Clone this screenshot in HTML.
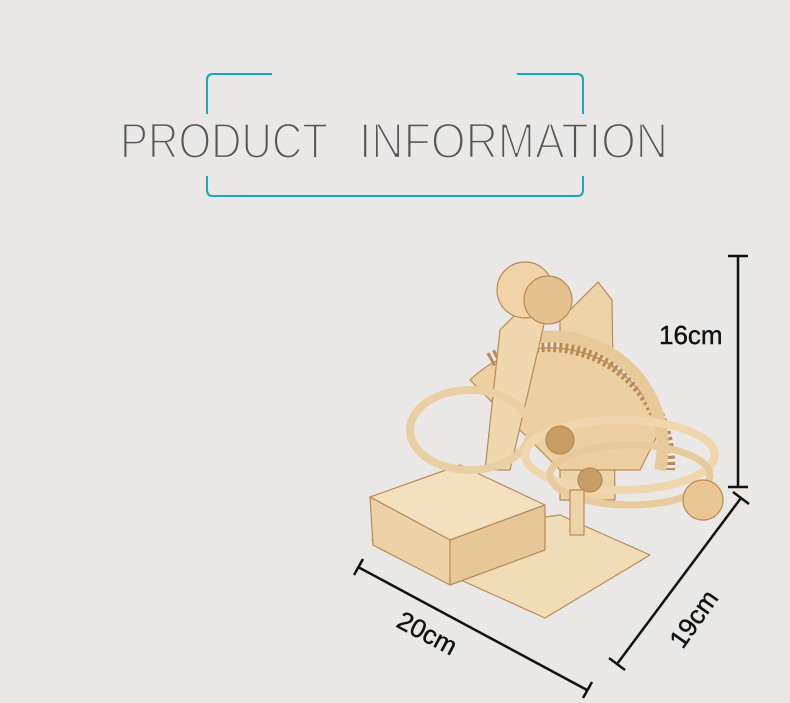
<!DOCTYPE html>
<html><head><meta charset="utf-8"><style>
html,body{margin:0;padding:0;background:#e9e8e6;}
svg{display:block}
</style></head><body>
<svg width="790" height="703" viewBox="0 0 790 703" xmlns="http://www.w3.org/2000/svg">
<rect width="790" height="703" fill="#e9e8e6"/>
<g fill="none" stroke="#1aa6b2" stroke-width="2">
<path d="M272 74 H213 Q207 74 207 80 V114"/>
<path d="M517 74 H577 Q583 74 583 80 V114"/>
<path d="M207 176 V190 Q207 196 213 196 H577 Q583 196 583 190 V176"/>
</g>
<g font-family="Liberation Sans, sans-serif" font-size="50" fill="#555" stroke="#e9e8e6" stroke-width="2.2" paint-order="fill">
<text x="120" y="158" textLength="208" lengthAdjust="spacingAndGlyphs">PRODUCT</text>
<text x="359" y="158" textLength="309" lengthAdjust="spacingAndGlyphs">INFORMATION</text>
</g>

<!-- wooden model -->
<g stroke="#b98a55" stroke-width="1.2" stroke-linejoin="round">
<polygon points="372,540 545,618 650,555 560,515" fill="#f1dcb8"/>
<path d="M560 320 L598 282 L612 300 L615 500 L560 500 Z" fill="#edd3a8"/>
<path d="M470 380 A115 115 0 0 1 660 430 L640 470 L560 470 Z" fill="#ecd0a2"/>
<path d="M490 360 A120 120 0 0 1 668 470" fill="none" stroke="#b98a55" stroke-width="14" stroke-dasharray="3 3"/>
<path d="M500 350 A110 110 0 0 1 660 470" fill="none" stroke="#e8c99a" stroke-width="12"/>
<polygon points="370,497 460,465 545,505 450,540" fill="#f3e0bf"/>
<polygon points="370,497 450,540 450,585 373,545" fill="#ecd2a6"/>
<polygon points="450,540 545,505 545,550 450,585" fill="#e6c898"/>
<polygon points="500,330 530,300 545,320 510,470 485,470" fill="#efd7ae"/>
<circle cx="525" cy="290" r="28" fill="#f0d4a8"/>
<circle cx="548" cy="300" r="24" fill="#e4c290"/>
<ellipse cx="470" cy="430" rx="60" ry="40" fill="none" stroke="#e9cfa3" stroke-width="8"/>
<ellipse cx="620" cy="455" rx="95" ry="35" fill="none" stroke="#efd6ad" stroke-width="8"/>
<ellipse cx="630" cy="475" rx="80" ry="30" fill="none" stroke="#e8cb9c" stroke-width="7"/>
<circle cx="703" cy="500" r="20" fill="#e8c795"/>
<rect x="570" y="490" width="14" height="45" fill="#edd3a8"/>
<circle cx="560" cy="440" r="14" fill="#c89d66"/>
<circle cx="590" cy="480" r="12" fill="#c89d66"/>
</g>

<!-- dimension lines -->
<g stroke="#111" stroke-width="2.5" fill="none">
<path d="M738 256 V487 M728 256 H748 M728 487 H748"/>
<path d="M358 567 L587 690 M354 575 L363 559 M583 698 L592 682"/>
<path d="M741 498 L617 664 M733 492 L749 504 M609 658 L625 670"/>
</g>
<g font-family="Liberation Sans, sans-serif" font-size="26" fill="#111" stroke="#111" stroke-width="0.4">
<text x="659" y="344">16cm</text>
<text transform="translate(423,641) rotate(28)" text-anchor="middle">20cm</text>
<text transform="translate(701,624) rotate(-55)" text-anchor="middle">19cm</text>
</g>
</svg>
</body></html>
